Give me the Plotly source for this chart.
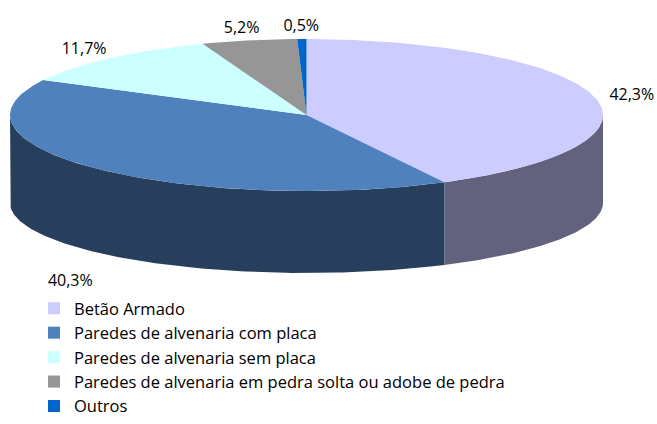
import numpy as np
import plotly.graph_objects as go

categories = ["Betão Armado", "Paredes de alvenaria com placa", "Paredes de alvenaria sem placa",
              "Paredes de alvenaria em pedra solta ou adobe de pedra", "Outros"]
values = [42.3, 40.3, 11.7, 5.2, 0.5]
labels = ["42,3%", "40,3%", "11,7%", "5,2%", "0,5%"]
top_colors = ["#CCCCFF", "#4F81BD", "#CCFFFF", "#969696", "#0066CC"]
side_colors = ["#62627F", "#273F5D", "#7F9F9F", "#5A5A5A", "#003D7A"]

W, H = 657, 424
cx, rx = 306.5, 296.5
cyT, ryT = 115.0, 76.0
cyB, ryB = 203.0, 70.0
FONT = "Open Sans"

fig = go.Figure()

total = sum(values)
fr = np.cumsum([0] + values) / total
angles = fr * 2 * np.pi  # clockwise from 12 o'clock


def pt(th, cy, ry):
    return cx + rx * np.sin(th), cy - ry * np.cos(th)

# side walls (front half only)
for i in range(len(values)):
    a0, a1 = max(angles[i], np.pi / 2), min(angles[i + 1], 1.5 * np.pi)
    if a1 <= a0:
        continue
    th = np.linspace(a0, a1, 120)
    xt, yt = pt(th, cyT, ryT)
    xb, yb = pt(th[::-1], cyB, ryB)
    fig.add_trace(go.Scatter(x=np.concatenate([xt, xb]), y=np.concatenate([yt, yb]),
                             fill="toself", mode="lines", line=dict(width=0),
                             fillcolor=side_colors[i], hoverinfo="skip", showlegend=False))

# top faces
for i in range(len(values)):
    n = max(4, int(400 * values[i] / total))
    th = np.linspace(angles[i], angles[i + 1], n)
    xs, ys = pt(th, cyT, ryT)
    fig.add_trace(go.Scatter(x=np.concatenate([[cx], xs, [cx]]), y=np.concatenate([[cyT], ys, [cyT]]),
                             fill="toself", mode="lines", line=dict(width=0),
                             fillcolor=top_colors[i], hoverinfo="skip", showlegend=False))

# data labels
mids = (angles[:-1] + angles[1:]) / 2
lx = cx + 1.13 * rx * np.sin(mids)
ly = cyT - 1.18 * ryT * np.cos(mids) + np.where(np.cos(mids) < 0, (cyB - cyT) + 15, 2)
fig.add_trace(go.Scatter(x=lx, y=ly, mode="text", text=labels,
                         textfont=dict(family=FONT, size=16, color="#000000"),
                         hoverinfo="skip", showlegend=False))

# legend entries
for c, col in zip(categories, top_colors):
    fig.add_trace(go.Scatter(x=[None], y=[None], mode="markers", name=c,
                             marker=dict(symbol="square", size=12, color=col)))

fig.update_layout(
    width=W, height=H,
    margin=dict(l=0, r=0, t=0, b=0),
    paper_bgcolor="white", plot_bgcolor="white",
    xaxis=dict(range=[0, W], visible=False, fixedrange=True),
    yaxis=dict(range=[H, 0], visible=False, fixedrange=True),
    showlegend=True,
    legend=dict(x=34 / W, y=0, xanchor="left", yanchor="bottom",
                font=dict(family=FONT, size=16.5, color="#000000"),
                itemwidth=30, tracegroupgap=0, bgcolor="rgba(0,0,0,0)"),
)

fig.write_html("out.html", config={"displayModeBar": False},
               post_script="document.body.style.margin='0';")
